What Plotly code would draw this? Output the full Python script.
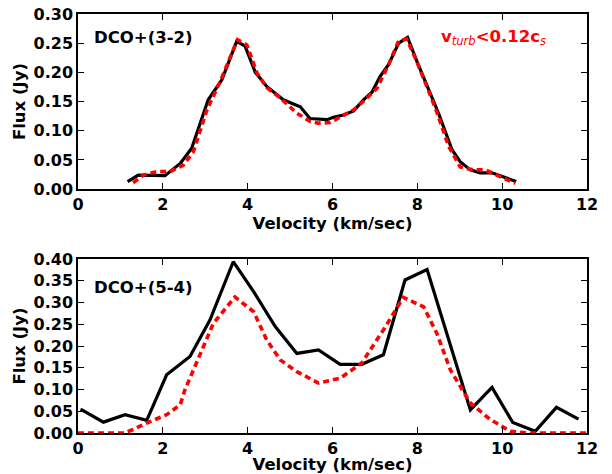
import plotly.graph_objects as go
from plotly.subplots import make_subplots

# DCO+(3-2): observed spectrum and model
v32_obs = [1.17, 1.42, 2.05, 2.41, 2.68, 3.07, 3.39, 3.74, 3.94, 4.18, 4.45, 4.84,
           5.24, 5.47, 5.87, 6.02, 6.26, 6.50, 6.73, 6.93, 7.12, 7.32, 7.56, 7.77,
           7.99, 8.27, 8.50, 8.82, 9.01, 9.25, 9.48, 9.76, 9.96, 10.33]
f32_obs = [0.013, 0.024, 0.023, 0.044, 0.070, 0.153, 0.187, 0.253, 0.245, 0.200, 0.176, 0.153,
           0.141, 0.121, 0.119, 0.123, 0.127, 0.134, 0.153, 0.166, 0.193, 0.213, 0.250, 0.260,
           0.219, 0.170, 0.130, 0.067, 0.047, 0.033, 0.028, 0.028, 0.023, 0.013]
v32_mod = [1.30, 1.54, 1.86, 2.17, 2.48, 2.72, 3.04, 3.35, 3.76, 3.98, 4.22, 4.45, 4.77,
           5.16, 5.47, 5.67, 5.94, 6.26, 6.50, 6.77, 7.05, 7.32, 7.56, 7.75, 7.95, 8.24,
           8.46, 8.74, 9.01, 9.33, 9.60, 9.96, 10.31]
f32_mod = [0.011, 0.024, 0.030, 0.030, 0.041, 0.064, 0.136, 0.184, 0.256, 0.247, 0.199, 0.174, 0.156,
           0.130, 0.116, 0.113, 0.114, 0.127, 0.136, 0.153, 0.173, 0.213, 0.254, 0.257, 0.225, 0.173,
           0.132, 0.073, 0.038, 0.033, 0.033, 0.021, 0.010]

# DCO+(5-4): observed spectrum and model
v54_obs = [0.06, 0.60, 1.11, 1.62, 2.09, 2.64, 3.11, 3.66, 4.14, 4.65, 5.16, 5.67,
           6.18, 6.69, 7.20, 7.71, 8.23, 9.25, 9.76, 10.25, 10.78, 11.28, 11.80]
f54_obs = [0.055, 0.025, 0.042, 0.029, 0.134, 0.176, 0.260, 0.394, 0.325, 0.245, 0.183, 0.191,
           0.158, 0.158, 0.180, 0.352, 0.376, 0.053, 0.105, 0.024, 0.004, 0.059, 0.032]
v54_mod = [0.0, 0.5, 1.1, 1.30, 1.62, 2.09, 2.41, 2.52, 2.88, 3.19, 3.70, 4.14, 4.45, 4.77,
           5.16, 5.47, 5.67, 6.18, 6.69, 7.20, 7.67, 8.15, 8.46, 8.78, 9.25, 9.72, 10.19,
           10.6, 11.2, 12.0]
f54_mod = [0.0, 0.0, 0.0, 0.008, 0.023, 0.042, 0.065, 0.099, 0.184, 0.252, 0.313, 0.279, 0.214, 0.168,
           0.141, 0.126, 0.115, 0.126, 0.161, 0.237, 0.312, 0.290, 0.229, 0.145, 0.069, 0.031, 0.004,
           0.0, 0.0, 0.0]

x_ticks = [0, 2, 4, 6, 8, 10, 12]

FONT = "DejaVu Sans"

fig = make_subplots(rows=2, cols=1, vertical_spacing=0.167)

panels = [
    (1, v32_obs, f32_obs, v32_mod, f32_mod, [0, 0.30]),
    (2, v54_obs, f54_obs, v54_mod, f54_mod, [0, 0.40]),
]
for row, vo, fo, vm, fm, yr in panels:
    fig.add_trace(go.Scatter(x=vo, y=fo, mode="lines",
                             line=dict(color="black", width=3.2),
                             showlegend=False), row=row, col=1)
    fig.add_trace(go.Scatter(x=vm, y=fm, mode="lines",
                             line=dict(color="red", width=3.6, dash="6px,4px"),
                             showlegend=False), row=row, col=1)
    fig.update_xaxes(range=[0, 12], tickvals=x_ticks, row=row, col=1)
    fig.update_yaxes(range=yr, dtick=0.05, tickformat=".2f", row=row, col=1)

axis_style = dict(
    showline=True, linecolor="black", linewidth=1.5, mirror="allticks",
    ticks="inside", ticklen=6, tickwidth=1, tickcolor="black",
    showgrid=False, zeroline=False, automargin=False,
    tickfont=dict(family=FONT, size=16, color="black", weight="bold"),
)
fig.update_xaxes(**axis_style)
fig.update_yaxes(**axis_style)

title_font = dict(family=FONT, size=16.5, color="black", weight="bold")
for row, standoff in ((1, 4), (2, 6)):
    fig.update_xaxes(title_text="Velocity (km/sec)", title_font=title_font,
                     title_standoff=standoff, row=row, col=1)
    fig.update_yaxes(title_text="Flux (Jy)", title_font=title_font,
                     title_standoff=4, row=row, col=1)

fig.update_layout(
    width=612, height=474,
    margin=dict(l=78, r=25, t=14, b=41),
    paper_bgcolor="white", plot_bgcolor="white",
    font=dict(family=FONT, color="black"),
)
fig.layout.yaxis.domain = [0.582, 1.0]
fig.layout.yaxis2.domain = [0.0, 0.415]

ann_font = dict(family=FONT, size=16.5, color="black", weight="bold")
fig.add_annotation(x=0.32, y=0.26, xref="x", yref="y", text="DCO+(3-2)",
                   showarrow=False, xanchor="left", yanchor="middle", font=ann_font)
fig.add_annotation(x=0.32, y=0.335, xref="x2", yref="y2", text="DCO+(5-4)",
                   showarrow=False, xanchor="left", yanchor="middle", font=ann_font)
sub_style = "font-weight:normal;font-style:italic"
fig.add_annotation(x=8.5, y=0.26, xref="x", yref="y",
                   text=("v<sub><span style='%s'>turb</span></sub>&lt;0.12c"
                         "<sub><span style='%s'>s</span></sub>") % (sub_style, sub_style),
                   showarrow=False, xanchor="left", yanchor="middle",
                   font=dict(family=FONT, size=16.5, color="red", weight="bold"))

fig.write_html("out.html")
